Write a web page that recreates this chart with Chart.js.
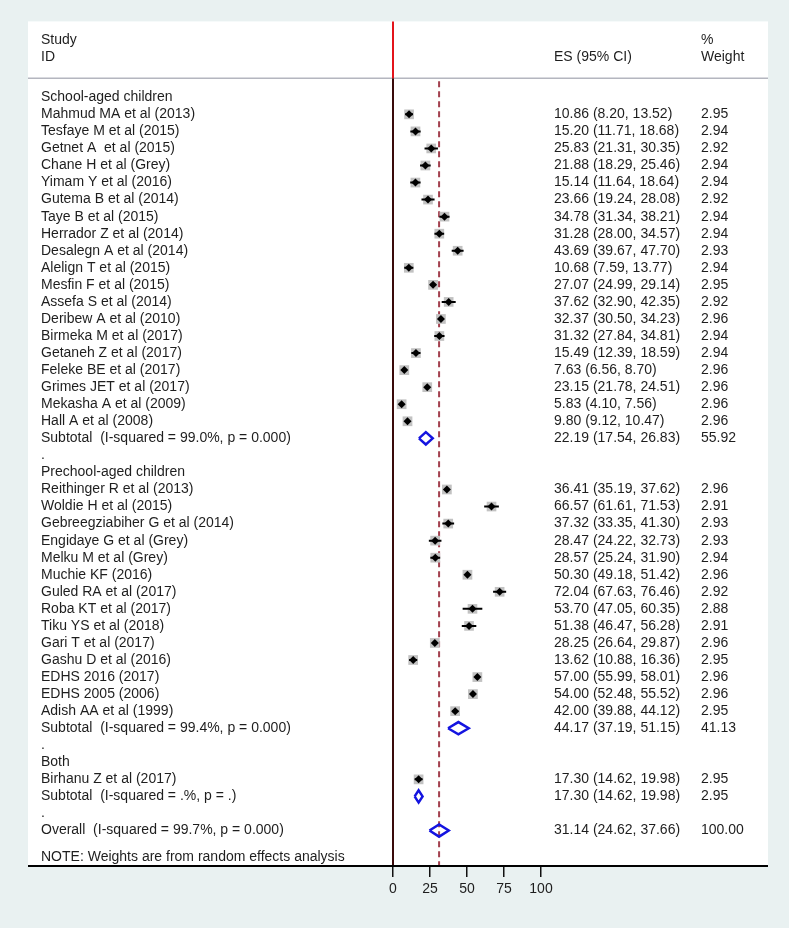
<!DOCTYPE html>
<html>
<head>
<meta charset="utf-8">
<title>Forest plot</title>
<script src="https://cdn.jsdelivr.net/npm/chart.js@4.4.1/dist/chart.umd.min.js"></script>
<style>
    body { margin: 0; background: #e9f1f1; }
    canvas { display: block; }
</style>
</head>
<body>
<canvas id="forestChart" width="789" height="928"></canvas>
<script>
// Study data, in plot order
const groupNames = ["School-aged children", "Prechool-aged children", "Both"];
const groupSizes = [19, 14, 1];

const studyLabels = [
    "Mahmud MA et al (2013)", "Tesfaye M et al (2015)", "Getnet A  et al (2015)", "Chane H et al (Grey)",
    "Yimam Y et al (2016)", "Gutema B et al (2014)", "Taye B et al (2015)", "Herrador Z et al (2014)",
    "Desalegn A et al (2014)", "Alelign T et al (2015)", "Mesfin F et al (2015)", "Assefa S et al (2014)",
    "Deribew A et al (2010)", "Birmeka M et al (2017)", "Getaneh Z et al (2017)", "Feleke BE et al (2017)",
    "Grimes JET et al (2017)", "Mekasha A et al (2009)", "Hall A et al (2008)",
    "Reithinger R et al (2013)", "Woldie H et al (2015)", "Gebreegziabiher G et al (2014)", "Engidaye G et al (Grey)",
    "Melku M et al (Grey)", "Muchie KF (2016)", "Guled RA et al (2017)", "Roba KT et al (2017)",
    "Tiku YS et al (2018)", "Gari T et al (2017)", "Gashu D et al (2016)", "EDHS 2016 (2017)",
    "EDHS 2005 (2006)", "Adish AA et al (1999)",
    "Birhanu Z et al (2017)"
];
const studyES = [10.86, 15.20, 25.83, 21.88, 15.14, 23.66, 34.78, 31.28, 43.69, 10.68, 27.07, 37.62, 32.37, 31.32, 15.49, 7.63, 23.15, 5.83, 9.80,
    36.41, 66.57, 37.32, 28.47, 28.57, 50.30, 72.04, 53.70, 51.38, 28.25, 13.62, 57.00, 54.00, 42.00,
    17.30];
const studyLow = [8.20, 11.71, 21.31, 18.29, 11.64, 19.24, 31.34, 28.00, 39.67, 7.59, 24.99, 32.90, 30.50, 27.84, 12.39, 6.56, 21.78, 4.10, 9.12,
    35.19, 61.61, 33.35, 24.22, 25.24, 49.18, 67.63, 47.05, 46.47, 26.64, 10.88, 55.99, 52.48, 39.88,
    14.62];
const studyHigh = [13.52, 18.68, 30.35, 25.46, 18.64, 28.08, 38.21, 34.57, 47.70, 13.77, 29.14, 42.35, 34.23, 34.81, 18.59, 8.70, 24.51, 7.56, 10.47,
    37.62, 71.53, 41.30, 32.73, 31.90, 51.42, 76.46, 60.35, 56.28, 29.87, 16.36, 58.01, 55.52, 44.12,
    19.98];
const studyWeight = [2.95, 2.94, 2.92, 2.94, 2.94, 2.92, 2.94, 2.94, 2.93, 2.94, 2.95, 2.92, 2.96, 2.94, 2.94, 2.96, 2.96, 2.96, 2.96,
    2.96, 2.91, 2.93, 2.93, 2.94, 2.96, 2.92, 2.88, 2.91, 2.96, 2.95, 2.96, 2.96, 2.95,
    2.95];

const subtotalLabels = [
    "Subtotal  (I-squared = 99.0%, p = 0.000)",
    "Subtotal  (I-squared = 99.4%, p = 0.000)",
    "Subtotal  (I-squared = .%, p = .)"
];
const subtotalES = [22.19, 44.17, 17.30];
const subtotalLow = [17.54, 37.19, 14.62];
const subtotalHigh = [26.83, 51.15, 19.98];
const subtotalWeight = [55.92, 41.13, 2.95];

const overallLabel = "Overall  (I-squared = 99.7%, p = 0.000)";
const overallES = 31.14;
const overallLow = 24.62;
const overallHigh = 37.66;
const overallWeight = 100.00;

const noteText = "NOTE: Weights are from random effects analysis";
const xTicks = [0, 25, 50, 75, 100];

// Row layout (row index = y value)
const yMin = -4.45;
const yMax = 45.08;
const headerRow1 = -3.34;
const headerRow2 = -2.34;
const headerLine = -1.11;
const noteRow = 44.55;
const diamondHalf = 0.36;

const rows = [];
let k = 0;
groupNames.forEach((name, g) => {
    rows.push({ label: name });
    for (let j = 0; j < groupSizes[g]; j++, k++) {
        rows.push({ label: studyLabels[k], es: studyES[k], lo: studyLow[k], hi: studyHigh[k], w: studyWeight[k], kind: "study" });
    }
    rows.push({ label: subtotalLabels[g], es: subtotalES[g], lo: subtotalLow[g], hi: subtotalHigh[g], w: subtotalWeight[g], kind: "sub" });
    rows.push({ label: "." });
});
rows.push({ label: overallLabel, es: overallES, lo: overallLow, hi: overallHigh, w: overallWeight, kind: "sub" });

const fmt = (v) => v.toFixed(2);

// Tick lists for the three text columns
const leftTicks = rows.map((r, i) => ({ value: i, text: r.label }));
leftTicks.push({ value: headerRow1, text: "Study" }, { value: headerRow2, text: "ID" }, { value: noteRow, text: noteText });

const esTicks = rows.map((r, i) => ({ value: i, text: r.kind ? `${fmt(r.es)} (${fmt(r.lo)}, ${fmt(r.hi)})` : "" }));
esTicks.push({ value: headerRow2, text: "ES (95% CI)" });

const weightTicks = rows.map((r, i) => ({ value: i, text: r.kind ? fmt(r.w) : "" }));
weightTicks.push({ value: headerRow1, text: "%" }, { value: headerRow2, text: "Weight" });

// Datasets built from the rows
const boxPoints = [];
const markPoints = [];
const ciPoints = [];
const diamondPoints = [];
rows.forEach((r, i) => {
    if (r.kind === "study") {
        boxPoints.push({ x: r.es, y: i, w: r.w });
        markPoints.push({ x: r.es, y: i });
        ciPoints.push({ x: r.lo, y: i }, { x: r.hi, y: i }, { x: r.hi, y: null });
    } else if (r.kind === "sub") {
        diamondPoints.push(
            { x: r.lo, y: i }, { x: r.es, y: i - diamondHalf }, { x: r.hi, y: i },
            { x: r.es, y: i + diamondHalf }, { x: r.lo, y: i }, { x: r.lo, y: null }
        );
    }
});

const textFont = { family: "'Liberation Sans', Arial, sans-serif", size: 14 };
const textColor = "#1e1e1e";

function rowAxis(position, list, weight, width, padding, align) {
    return {
        type: "linear",
        axis: "y",
        position: position,
        weight: weight,
        min: yMin,
        max: yMax,
        reverse: true,
        grid: { display: false, drawTicks: false },
        border: { display: false },
        afterBuildTicks: (axis) => {
            axis.ticks = list.map((t) => ({ value: t.value }));
        },
        afterFit: (axis) => {
            axis.width = width;
        },
        ticks: {
            autoSkip: false,
            padding: padding,
            crossAlign: align,
            color: textColor,
            font: textFont,
            callback: (value, index) => list[index].text,
        },
    };
}

const panelPlugin = {
    id: "panel",
    beforeDraw(chart) {
        const { ctx, chartArea, scales } = chart;
        ctx.save();
        ctx.fillStyle = "#e9f1f1";
        ctx.fillRect(0, 0, chart.width, chart.height);
        ctx.fillStyle = "#ffffff";
        ctx.fillRect(28, chartArea.top, 740, chartArea.bottom - chartArea.top);
        // header separator
        const ySep = scales.y.getPixelForValue(headerLine);
        ctx.strokeStyle = "#b4b6bf";
        ctx.lineWidth = 1.5;
        ctx.beginPath();
        ctx.moveTo(28, ySep);
        ctx.lineTo(768, ySep);
        ctx.stroke();
        ctx.restore();
    },
    afterDraw(chart) {
        const { ctx, chartArea } = chart;
        ctx.save();
        ctx.strokeStyle = "#000000";
        ctx.lineWidth = 2;
        ctx.beginPath();
        ctx.moveTo(28, chartArea.bottom);
        ctx.lineTo(768, chartArea.bottom);
        ctx.stroke();
        ctx.restore();
    },
};

const ctx = document.getElementById("forestChart").getContext("2d");
new Chart(ctx, {
    type: "scatter",
    data: {
        datasets: [
            {
                // subtotal / overall diamonds
                data: diamondPoints,
                showLine: true,
                spanGaps: false,
                borderColor: "#1414e0",
                borderWidth: 2.5,
                borderJoinStyle: "miter",
                pointRadius: 0,
                order: 1,
            },
            {
                // point estimates
                data: markPoints,
                pointStyle: "rectRot",
                pointRadius: 4,
                backgroundColor: "#000000",
                borderWidth: 0,
                order: 2,
            },
            {
                // confidence intervals
                data: ciPoints,
                showLine: true,
                spanGaps: false,
                borderColor: "#000000",
                borderWidth: 2,
                pointRadius: 0,
                order: 3,
            },
            {
                // weight boxes
                data: boxPoints,
                pointStyle: "rect",
                pointRadius: (c) => 4 * Math.sqrt(c.raw.w),
                backgroundColor: "#c2c2c2",
                borderWidth: 0,
                order: 4,
            },
            {
                // overall estimate line
                data: [{ x: overallES, y: headerLine + 0.17 }, { x: overallES, y: yMax }],
                showLine: true,
                borderColor: "#a3414f",
                borderWidth: 2,
                borderDash: [6, 4],
                pointRadius: 0,
                order: 5,
            },
            {
                // null line, header part
                data: [{ x: 0, y: yMin }, { x: 0, y: headerLine }],
                showLine: true,
                borderColor: "#e3141b",
                borderWidth: 2,
                pointRadius: 0,
                order: 6,
            },
            {
                // null line, body part
                data: [{ x: 0, y: headerLine }, { x: 0, y: yMax }],
                showLine: true,
                borderColor: "#3a0a0a",
                borderWidth: 2,
                pointRadius: 0,
                order: 6,
            },
        ],
    },
    options: {
        responsive: false,
        animation: false,
        events: [],
        clip: false,
        layout: { padding: { left: 41, right: 21, top: 20, bottom: 22 } },
        plugins: {
            legend: { display: false },
            tooltip: { enabled: false },
        },
        scales: {
            x: {
                type: "linear",
                position: "bottom",
                min: 0,
                max: 100,
                afterBuildTicks: (axis) => {
                    axis.ticks = xTicks.map((v) => ({ value: v }));
                },
                afterFit: (axis) => {
                    axis.height = 40;
                },
                grid: { drawOnChartArea: false, tickLength: 11, color: "#111111", lineWidth: 1.5 },
                border: { display: true, color: "#000000", width: 2 },
                ticks: { padding: 4, color: textColor, font: textFont },
            },
            y: rowAxis("left", leftTicks, 0, 352, 0, "far"),
            yES: rowAxis("right", esTicks, 1, 160, 13, "near"),
            yW: rowAxis("right", weightTicks, 2, 67, 0, "near"),
        },
    },
    plugins: [panelPlugin],
});
</script>
</body>
</html>
